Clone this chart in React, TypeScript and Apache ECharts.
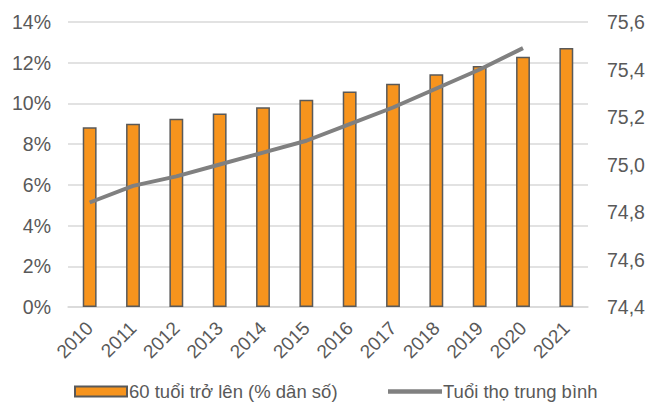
import React, { useEffect, useRef } from "react";
import * as echarts from "echarts";

const years = ["2010","2011","2012","2013","2014","2015","2016","2017","2018","2019","2020","2021"];
const elderlyShare = [8.83, 9.0, 9.25, 9.5, 9.81, 10.18, 10.59, 10.97, 11.43, 11.84, 12.29, 12.72];
const lifeExpectancy: (number | null)[] = [74.84, 74.91, 74.95, 75.0, 75.05, 75.1, 75.17, 75.24, 75.32, 75.4, 75.49, null];
const barName = "60 tuổi trở lên (% dân số)";
const lineName = "Tuổi thọ trung bình";

export default function App() {
  const ref = useRef<HTMLDivElement>(null);
  useEffect(() => {
    if (!ref.current) return;
    const chart = echarts.init(ref.current, null, { renderer: "svg" });
    const font = "'Liberation Sans', Arial, sans-serif";
    chart.setOption({
      animation: false,
      textStyle: { fontFamily: font },
      grid: { left: 68, right: 62, top: 22, bottom: 96 },
      legend: [
        {
          data: [{ name: barName, icon: "rect" }],
          left: 74, top: 382, padding: 0, itemWidth: 52, itemHeight: 10, itemGap: 5,
          textStyle: { fontFamily: font, fontSize: 18.5, color: "#595959", padding: [0, 0, 0, -3] },
          selectedMode: false,
        },
        {
          data: [{ name: lineName, icon: "rect", itemStyle: { color: "#808080" } }],
          left: 388, top: 382, padding: 0, itemWidth: 54, itemHeight: 4.5, itemGap: 4,
          textStyle: { fontFamily: font, fontSize: 18.5, color: "#595959", padding: [0, 0, 0, -4] },
          selectedMode: false,
        },
      ],
      xAxis: {
        type: "category",
        data: years,
        axisLine: { show: true, lineStyle: { color: "#d9d9d9", width: 1.5 } },
        axisTick: { show: false },
        axisLabel: { rotate: 45, fontSize: 19, color: "#595959", margin: 18, fontFamily: font },
      },
      yAxis: [
        {
          type: "value", min: 0, max: 14, interval: 2,
          axisLabel: { formatter: (v: number) => v + "%", fontSize: 19.5, color: "#595959", margin: 17, fontFamily: font },
          splitLine: { lineStyle: { color: "#d9d9d9", width: 1.5 } },
          axisLine: { show: false }, axisTick: { show: false },
        },
        {
          type: "value", min: 74.4, max: 75.6, interval: 0.2,
          axisLabel: { formatter: (v: number) => v.toFixed(1).replace(".", ","), fontSize: 19.5, color: "#595959", margin: 19, fontFamily: font },
          splitLine: { show: false },
          axisLine: { show: false }, axisTick: { show: false },
        },
      ],
      series: [
        {
          name: barName, type: "bar", data: elderlyShare, barWidth: "32%",
          itemStyle: { color: "#F7941D", borderColor: "#595959", borderWidth: 1.5 },
        },
        {
          name: lineName, type: "line", yAxisIndex: 1, data: lifeExpectancy,
          showSymbol: false, symbol: "none",
          lineStyle: { color: "#808080", width: 4 },
          itemStyle: { color: "#808080" },
        },
      ],
    });
    return () => chart.dispose();
  }, []);
  return <div ref={ref} style={{ width: 650, height: 403, position: "absolute", left: 0, top: 0 }} />;
}
